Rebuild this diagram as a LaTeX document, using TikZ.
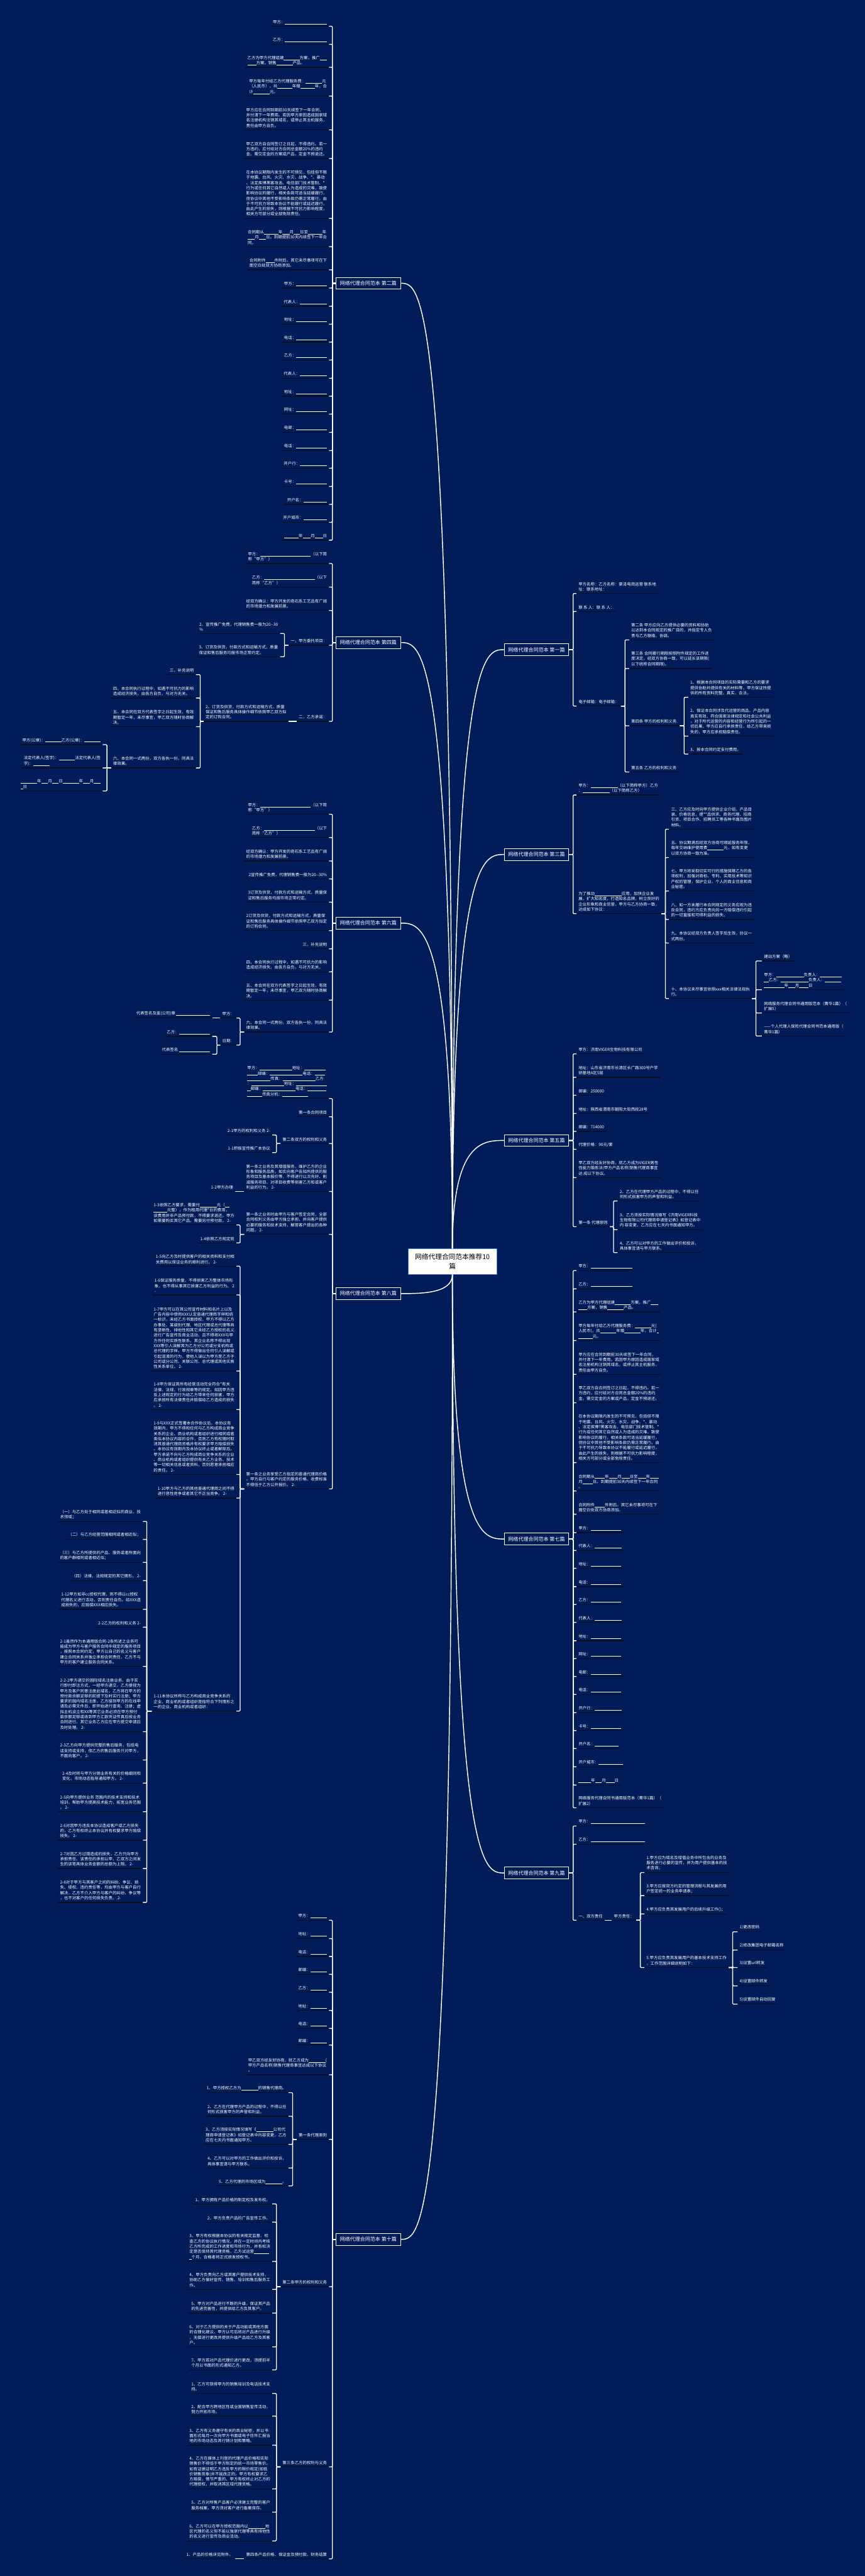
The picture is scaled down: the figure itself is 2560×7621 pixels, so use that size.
\documentclass[tikz,border=0pt]{standalone}
\usepackage{fontspec}
\setmainfont{Noto Sans CJK SC}
\usepackage{tikz}
\usetikzlibrary{calc}
\definecolor{bg}{HTML}{021C59}
\definecolor{ink}{HTML}{080C24}
\definecolor{rootedge}{HTML}{4A78D0}
\newdimen\pxu \pxu=0.3mm
\newcommand\bl[1]{\rule[-0.12em]{#1\pxu}{0.06em}}
\tikzset{
  root/.style={draw=rootedge, line width=1pt, fill=white, text=black, align=center,
               font=\fontsize{17}{24.7}\selectfont, minimum width=78.6mm, minimum height=22.8mm, inner sep=2pt},
  branch/.style={draw=white, line width=1.2pt, fill=bg, text=white, font=\fontsize{12.75}{15}\selectfont,
                 minimum width=57.3mm, minimum height=10.5mm, inner sep=2pt},
  uline/.style={draw=ink, line width=2pt},
  leaf/.style={text=white, align=left, font=\fontsize{10.2}{13.2}\selectfont, inner xsep=1.8mm, inner ysep=2mm,
               append after command={(\tikzlastnode.south west) edge[uline] (\tikzlastnode.south east)}},
  lleaf/.style={leaf, anchor=south east},
  rleaf/.style={leaf, anchor=south west},
  conn/.style={draw=white, line width=2pt, rounded corners=2pt},
  trunk/.style={draw=white, line width=2.3pt},
}
\begin{document}
\begin{tikzpicture}[x=0.3mm, y=-0.3mm]
  \fill[bg] (0,0) rectangle (2560,7621);
  \useasboundingbox (0,0) rectangle (2560,7621);
  \node[root] (root) at (1339,3732) {网络代理合同范本推荐10\\篇};
  \node[branch] (b1) at (1588,1922) {网络代理合同范本 第一篇};
  \node[branch] (b2) at (1090,838) {网络代理合同范本 第二篇};
  \node[branch] (b3) at (1588,2528) {网络代理合同范本 第三篇};
  \node[branch] (b4) at (1090,1901) {网络代理合同范本 第四篇};
  \node[branch] (b5) at (1588,3374) {网络代理合同范本 第五篇};
  \node[branch] (b6) at (1090,2731) {网络代理合同范本 第六篇};
  \node[branch] (b7) at (1588,4553) {网络代理合同范本 第七篇};
  \node[branch] (b8) at (1090,3827) {网络代理合同范本 第八篇};
  \node[branch] (b9) at (1588,5541) {网络代理合同范本 第九篇};
  \node[branch] (b10) at (1090,6625) {网络代理合同范本 第十篇};
  \foreach \b in {b2,b4,b6}
    \draw[trunk] (root.north) .. controls (root.north |- \b.east) and ($(\b.east)+(60,0)$) .. (\b.east);
  \foreach \b in {b1,b3,b5}
    \draw[trunk] (root.north) .. controls (root.north |- \b.west) and ($(\b.west)+(-60,0)$) .. (\b.west);
  \foreach \b in {b8,b10}
    \draw[trunk] (root.south) .. controls (root.south |- \b.east) and ($(\b.east)+(60,0)$) .. (\b.east);
  \foreach \b in {b7,b9}
    \draw[trunk] (root.south) .. controls (root.south |- \b.west) and ($(\b.west)+(-60,0)$) .. (\b.west);

  \node[lleaf] (b2c1) at (974,77.5) {甲方：\bl{124}};
  \node[lleaf] (b2c2) at (974,131) {乙方：\bl{124}};
  \node[lleaf] (b2c3) at (974,199) {乙方为甲方代理组建\bl{47}方案，推广\bl{21}\\\bl{26}方案，销售\bl{48}产品。};
  \node[lleaf] (b2c4) at (974,284) {甲方每年付给乙方代理服务费：\bl{48}元\\（人民币），共\bl{44}年赠\bl{43}年，合\\计\bl{49}元。};
  \node[lleaf] (b2c5) at (974,384) {甲方应在合同到期前30天续签下一年合同，\\并付清下一年费用。若因甲方原因造成国家域\\名注册机构注销其域名，或停止其主机服务，\\责任由甲方自负。};
  \node[lleaf] (b2c6) at (974,469) {甲乙双方自合同签订之日起，不得违约。若一\\方违约，应付给对方合同总金额20\%的违约\\金。需交定金的方案或产品，定金不预退还。};
  \node[lleaf] (b2c7) at (974,646) {在本协议期限内发生的不可预见，包括但不限\\于地震、台风、火灾、水灾、战争、*、暴动\\、法定疾博黑客攻击、电信部门技术管制、*\\行为或任何其它自然或人为造成的灾难，致使\\影响协议的履行，相关条款可适当延缓履行，\\但协议中其他不受影响条款仍需正常履行。由\\于不可抗力导致本协议不能履行或延迟履行，\\由此产生的损失，则根据不可抗力影响程度，\\相关方可部分或全部免除责任。};
  \node[lleaf] (b2c8) at (974,730) {合同期从\bl{43}年\bl{21}月\bl{19}日至\bl{42}年\\\bl{21}月\bl{21}日。到期提前30天内续签下一年合\\同。};
  \node[lleaf] (b2c9) at (974,798) {合同附件\bl{26}件附后。其它未尽事项可在下\\面空白处双方协商添加。};
  \node[lleaf] (b2c10) at (974,852) {甲方：\bl{91}};
  \node[lleaf] (b2c11) at (974,906) {代表人：\bl{80}};
  \node[lleaf] (b2c12) at (974,959) {地址：\bl{91}};
  \node[lleaf] (b2c13) at (974,1012) {电话：\bl{91}};
  \node[lleaf] (b2c14) at (974,1065) {乙方：\bl{91}};
  \node[lleaf] (b2c15) at (974,1119) {代表人：\bl{80}};
  \node[lleaf] (b2c16) at (974,1172) {地址：\bl{91}};
  \node[lleaf] (b2c17) at (974,1225) {网址：\bl{91}};
  \node[lleaf] (b2c18) at (974,1279) {电邮：\bl{91}};
  \node[lleaf] (b2c19) at (974,1333) {电话：\bl{91}};
  \node[lleaf] (b2c20) at (974,1385) {开户行：\bl{80}};
  \node[lleaf] (b2c21) at (974,1439) {卡号：\bl{91}};
  \node[lleaf] (b2c22) at (974,1492) {开户名：\bl{70}};
  \node[lleaf] (b2c23) at (974,1545) {开户城市：\bl{70}};
  \node[lleaf] (b2c24) at (974,1598) {\bl{43}年\bl{24}月\bl{24}日};
  \foreach \i in {1,...,24} \draw[conn] (b2.west) -- ++(-10,0) |- (b2c\i.south east);

  \node[lleaf] (b4c1) at (974,1667) {甲方：\bl{150}（以下简\\称“甲方”）};
  \node[lleaf] (b4c2) at (974,1737) {乙方：\bl{150}（以下\\简称“乙方”）};
  \node[lleaf] (b4c3) at (974,1806) {经双方确认：甲方开发的奇石系工艺品有广阔\\的市场潜力和发展前景。};
  \node[lleaf] (b4c4) at (974,1909) {一，甲方委托项目：};
  \node[lleaf] (b4c5) at (974,2134) {二，乙方承诺：};
  \node[lleaf] (b4d1) at (829,1874) {2、宣传推广免费，代理销售费一般为20-{}-30\\\%};
  \node[lleaf] (b4d2) at (829,1943) {3、订货及供货，付款方式和运输方式，质量\\保证和售后服务均按市场正常约定。};
  \node[lleaf] (b4e1) at (854,2134) {2、订货及供货，付款方式和运输方式，质量\\保证和售后服务具体操作细节依照甲乙双方拟\\定的订购合同。};
  \node[lleaf] (b4f1) at (580,1996) {三，补充说明};
  \node[lleaf] (b4f2) at (580,2065) {四，本合同执行过程中，如遇不可抗力的影响\\造成经济损失，由各方自负，与对方无关。};
  \node[lleaf] (b4f3) at (580,2150) {五、本合同在双方代表签字之日起生效，有效\\期暂定一年，未尽事宜，甲乙双方随时协商解\\决。};
  \node[lleaf] (b4f4) at (580,2272) {六、本合同一式两份，双方各执一份，同具法\\律效果。};
  \node[lleaf] (b4g1) at (304,2203) {甲方(公章)：\bl{48}乙方(公章)：\bl{48}};
  \node[lleaf] (b4g2) at (304,2272) {法定代表人(签字)：\bl{48}法定代表人(签\\字)：\bl{48}};
  \node[lleaf] (b4g3) at (304,2340) {\bl{48}年\bl{20}月\bl{20}日\bl{48}年\bl{20}月\bl{20}\\\bl{6}日};
  \foreach \i in {1,...,5} \draw[conn] (b4.west) -- ++(-10,0) |- (b4c\i.south east);
  \foreach \i in {b4d1,b4d2} \draw[conn] (b4c4.south west) -- ++(-12,0) |- (\i.south east);
  \draw[conn] (b4c5.south west) -- (b4e1.south east);
  \foreach \i in {1,...,4} \draw[conn] (b4e1.south west) -- ++(-10,0) |- (b4f\i.south east);
  \foreach \i in {1,2,3} \draw[conn] (b4f4.south west) -- ++(-12,0) |- (b4g\i.south east);

  \node[lleaf] (b6c1) at (974,2409) {甲方：\bl{150}（以下简\\称“甲方”）};
  \node[lleaf] (b6c2) at (974,2478) {乙方：\bl{150}（以下\\简称“乙方”）};
  \node[lleaf] (b6c3) at (974,2547) {经双方确认：甲方开发的奇石系工艺品有广阔\\的市场潜力和发展前景。};
  \node[lleaf] (b6c4) at (974,2600) {2宣传推广免费，代理销售费一般为20-{}-30\%};
  \node[lleaf] (b6c5) at (974,2669) {3订货及供货，付款方式和运输方式，质量保\\证和售后服务均按市场正常约定。};
  \node[lleaf] (b6c6) at (974,2753) {2订货及供货，付款方式和运输方式，质量保\\证和售后服务具体操作细节依照甲乙双方拟定\\的订购合同。};
  \node[lleaf] (b6c7) at (974,2807) {三，补充说明};
  \node[lleaf] (b6c8) at (974,2875) {四，本合同执行过程中，如遇不可抗力的影响\\造成经济损失，由各方自负，与对方无关。};
  \node[lleaf] (b6c9) at (974,2959) {五、本合同在双方代表签字之日起生效，有效\\期暂定一年，未尽事宜，甲乙双方随时协商解\\决。};
  \node[lleaf] (b6c10) at (974,3053) {六、本合同一式两份，双方各执一份，同具法\\律效果。};
  \node[lleaf] (b6d1) at (700,3012) {甲方：};
  \node[lleaf] (b6d2) at (700,3092) {日期：};
  \node[lleaf] (b6e1) at (628,3012) {代表签名及盖(公司)章 \bl{100}};
  \node[lleaf] (b6f1) at (628,3066) {乙方：\bl{92}};
  \node[lleaf] (b6f2) at (628,3119) {代表签名 \bl{92}};
  \foreach \i in {1,...,10} \draw[conn] (b6.west) -- ++(-10,0) |- (b6c\i.south east);
  \foreach \i in {b6d1,b6d2} \draw[conn] (b6c10.south west) -- ++(-12,0) |- (\i.south east);
  \draw[conn] (b6d1.south west) -- (b6e1.south east);
  \foreach \i in {b6f1,b6f2} \draw[conn] (b6d2.south west) -- ++(-10,0) |- (\i.south east);

  \node[lleaf] (b8c1) at (974,3250) {甲方：\bl{97}地址：\bl{63}\\\bl{31}邮编：\bl{97}电话：\bl{30}\\\bl{69}传真：\bl{97}乙方\\：\bl{97}地址：\bl{91}\\\bl{10}邮编：\bl{97}电话：\bl{55}\\\bl{44}传真分机：\bl{76}};
  \node[lleaf] (b8c2) at (974,3304) {第一条合同项目};
  \node[lleaf] (b8c3) at (974,3383) {第二条双方的权利和义务};
  \node[lleaf] (b8c4) at (974,3525) {第一条之业务及其增值服务，维护乙方的企业\\形象和服务品质，如实向客户告知所提供的服\\务项目及基本报价等，不得进行以次充好、削\\减服务项目、对项目收费等损害乙方和或客户\\利益的行为。 2-};
  \node[lleaf] (b8c5) at (974,3652) {第一条之业务时由甲方与客户签定合同，全部\\合同权利义务由甲方独立承担，并向客户提供\\必要的服务和技术支持，解答客户提出的各种\\问题。 2-};
  \node[lleaf] (b8c6) at (974,4405) {第一条之业务享受乙方指定的普通代理商价格\\。甲方自行与客户约定的服务价格、收费标准\\不得低于乙方公开报价。 2-};
  \node[lleaf] (b8d1) at (806,3358) {2-1甲方的权利和义务 2-};
  \node[lleaf] (b8d2) at (806,3410) {1-1积极宣传推广本协议};
  \node[lleaf] (b8e1) at (696,3525) {1-2甲方办理};
  \node[lleaf] (b8f1) at (700,3624) {1-3依照乙方要求，需要付\bl{50}元（\bl{14}\\\bl{40}元整），作为租用代理*台的费用，\\该费用并非产品预付款，不得要求退还。甲方\\如需要购买其它产品，需要另付预付款。 2-};
  \node[lleaf] (b8f2) at (700,3677) {1-4依照乙方规定就};
  \node[lleaf] (b8g1) at (700,3746) {1-5向乙方及时提供客户的相关资料和支付相\\关费用以保证业务的顺利进行。 2-};
  \node[lleaf] (b8g2) at (700,3831) {1-6保证服务质量，不得损害乙方整体市场形\\象，也不得从事其它损害乙方利益的行为。 2\\-};
  \node[lleaf] (b8g3) at (700,4056) {1-7甲方可以在其公司宣传材料和名片上以及\\广告内容中使用XXX认定普通代理商字样和统\\一标识，未经乙方书面授权，甲方不得以乙方\\办事处、某级别代理、地区代理或总代理等具\\有垄断性、排他性和其它未经乙方授权的名义\\进行广告宣传及商业活动，且不得将XXX与甲\\方作任何实质性联系，其企业名称不得出现\\XXX等引人误解其为乙方分公司或分支机构或\\总代理的字样。甲方不得做出任何引人误解或\\引起混淆的行为，使他人误以为甲方是乙方子\\公司或分公司、关联公司、总代理或其他实质\\性关系单位。 2-};
  \node[lleaf] (b8g4) at (700,4170) {1-8甲方保证其所有经营活动完全符合*有关\\法律、法规、行政规章等的规定。如因甲方违\\反上述规定的行为给乙方带来任何损害，甲方\\应承担所有法律责任并赔偿给乙方造成的损失\\。 2-};
  \node[lleaf] (b8g5) at (700,4362) {1-9与XXX正式签署本合作协议后，本协议有\\效期内，甲方不得和任何与乙方构成商业竞争\\关系的企业、商业机构或者组织进行相同或者\\类似本协议内容的合作，否则乙方有权随时取\\消其普通代理商资格并有权要求甲方赔偿损失\\。本协议有效期内及本协议终止或者解除后，\\甲方承诺不向与乙方构成商业竞争关系的企业\\、商业机构或者组织提供有关乙方业务、技术\\等一切相关信息或者资料，否则愿意承担相应\\的责任。 2-};
  \node[lleaf] (b8g6) at (700,4432) {1-10甲方与乙方的其他普通代理商之间不得\\进行恶性竞争或者其它不正当竞争。 2-};
  \node[lleaf] (b8g7) at (700,5062) {1-11本协议所称与乙方构成商业竞争关系的\\企业、商业机构或者组织是指符合下列情形之\\一的企业、商业机构或者组织：};
  \node[lleaf] (b8h1) at (423,4501) {（一）与乙方处于相同或者相近似的商业、技\\术领域；};
  \node[lleaf] (b8h2) at (423,4554) {（二）与乙方经营范围相同或者相近似；};
  \node[lleaf] (b8h3) at (423,4622) {（三）与乙方所提供的产品、服务或者所面向\\的客户群相同或者相近似；};
  \node[lleaf] (b8h4) at (423,4676) {（四）法律、法规规定的其它情形。 2-};
  \node[lleaf] (b8h5) at (423,4761) {1-12甲方如非cc授权代理，则不得以cc授权\\代理名义进行活动，否则责任自负。给XXX造\\成损失的，应赔偿XXX相应损失。};
  \node[lleaf] (b8h6) at (423,4814) {2-2乙方的权利和义务 2-};
  \node[lleaf] (b8h7) at (423,4930) {2-1虽然作为本通用版合同-2条所述之业务可\\能成为甲方与客户服务合同中规定的服务项目\\，按照本合同约定，甲方以自己的名义与客户\\建立合同关系并独立承担合同责任，乙方不与\\甲方的客户建立服务合同关系。};
  \node[lleaf] (b8h8) at (423,5123) {2-2-2甲方递交的国际域名注册业务，由于实\\行即付即注方式，一经甲方递交，乙方便视为\\甲方及客户同意注册此域名，乙方将在甲方的\\预付款余额足够的前提下及时实行注册；甲方\\要求的国内域名注册，乙方接到甲方的在线申\\请及必需文件后，即开始进行查询、注册；虚\\拟主机设立和XX等其它业务必须在甲方预付\\款余额足够或收到甲方汇款凭证传真后按业务\\合同进行。其它业务乙方应在甲方提交申请后\\及时处理。 2-};
  \node[lleaf] (b8h9) at (423,5207) {2-3乙方向甲方提供完整的售后服务，包括电\\话支持或支持，但乙方的售后服务只对甲方，\\不面向客户。 2-};
  \node[lleaf] (b8h10) at (423,5275) {2-4及时将与甲方分销业务有关的价格细则和\\变化，市场动态指导通知甲方。 2-};
  \node[lleaf] (b8h11) at (423,5360) {2-5向甲方提供业务 范围内的技术支持和技术\\培训，帮助甲方提高技术能力，拓宽业务范围\\。 2-};
  \node[lleaf] (b8h12) at (423,5444) {2-6对因甲方违反本协议造成客户或乙方损失\\的，乙方有权终止本协议并有权要求甲方赔偿\\损失。 2-};
  \node[lleaf] (b8h13) at (423,5528) {2-7对因乙方过错造成的损失，乙方只向甲方\\承担责任。该责任的承担以甲、乙双方之间发\\生的该笔具体业务金额的总额为上限。 2-};
  \node[lleaf] (b8h14) at (423,5628) {2-8对于甲方与其客户之间的纠纷、争议、损\\失、侵权、违约责任等，均由甲方与客户自行\\解决，乙方不介入甲方与客户的纠纷、争议等\\，也不对客户的任何损失负责。 2-};
  \foreach \i in {1,...,6} \draw[conn] (b8.west) -- ++(-10,0) |- (b8c\i.south east);
  \foreach \i in {b8d1,b8d2} \draw[conn] (b8c3.south west) -- ++(-12,0) |- (\i.south east);
  \draw[conn] (b8c4.south west) -- (b8e1.south east);
  \foreach \i in {b8f1,b8f2} \draw[conn] (b8c5.south west) -- ++(-12,0) |- (\i.south east);
  \foreach \i in {1,...,7} \draw[conn] (b8c6.south west) -- ++(-12,0) |- (b8g\i.south east);
  \foreach \i in {1,...,14} \draw[conn] (b8g7.south west) -- ++(-14,0) |- (b8h\i.south east);

  \node[lleaf] (b10c1) at (974,5681) {甲方：\bl{49}};
  \node[lleaf] (b10c2) at (974,5735) {地址：\bl{49}};
  \node[lleaf] (b10c3) at (974,5788) {电话：\bl{49}};
  \node[lleaf] (b10c4) at (974,5841) {邮编：\bl{49}};
  \node[lleaf] (b10c5) at (974,5894) {乙方：\bl{49}};
  \node[lleaf] (b10c6) at (974,5948) {地址：\bl{49}};
  \node[lleaf] (b10c7) at (974,6001) {电话：\bl{49}};
  \node[lleaf] (b10c8) at (974,6050) {邮编：\bl{49}};
  \node[lleaf] (b10c9) at (974,6138) {甲乙双方经友好协商，就乙方成为\bl{50}(\\甲方产品名称)销售代理商事宜达成以下协议\\。};
  \node[lleaf] (b10c10) at (974,6329) {第一条代理原则};
  \node[lleaf] (b10c11) at (974,6765) {第二条甲方的权利和义务};
  \node[lleaf] (b10c12) at (974,7298) {第三条乙方的权利与义务};
  \node[lleaf] (b10c13) at (974,7570) {第四条产品价格、保证金及预付款、财务结算};
  \node[lleaf] (b10d1) at (854,6191) {1、甲方授权乙方为\bl{50}的销售代理商。};
  \node[lleaf] (b10d2) at (854,6261) {2、乙方在代理甲方产品的过程中，不得以任\\何形式损害甲方的声誉和利益。};
  \node[lleaf] (b10d3) at (854,6344) {3、乙方须按实际情况填写《\bl{50}公司代\\理商申请登记表》如登记表中内容变更，乙方\\应在七天内书面通知甲方。};
  \node[lleaf] (b10d4) at (854,6414) {4、乙方可以对甲方的工作做出评价和投诉，\\具体事宜请与甲方联系。};
  \node[lleaf] (b10d5) at (854,6467) {5、乙方代理的市场区域为\bl{50}。};
  \node[lleaf] (b10e1) at (806,6520) {1、甲方拥有产品价格的制定权及发布权。};
  \node[lleaf] (b10e2) at (806,6574) {2、甲方负责产品的广告宣传工作。};
  \node[lleaf] (b10e3) at (806,6690) {3、甲方有权根据本协议的有关规定监督、检\\查乙方的协议执行情况，并在一定时间内考核\\乙方所完成的工作进度和市场行为，并有权决\\定是否保持其代理资格，乙方试运营\bl{44}\\\bl{6}个月，合格者将正式颁发授权书。};
  \node[lleaf] (b10e4) at (806,6773) {4、甲方负责向乙方或其客户提供技术支持，\\协助乙方做好宣传、销售、培训和售后服务工\\作。};
  \node[lleaf] (b10e5) at (806,6843) {5、甲方对产品进行不断的升级，保证其产品\\的先进完善性，并提供给乙方及其客户。};
  \node[lleaf] (b10e6) at (806,6943) {6、对于乙方提供的关于产品功能或其他方面\\的合理化建议，甲方认可后将对产品进行升级\\，无偿进行更改并提供升级产品给乙方及其客\\户。};
  \node[lleaf] (b10e7) at (806,7011) {7、甲方若对产品代理价进行更改，须提前半\\个月以书面的形式通知乙方。};
  \node[lleaf] (b10f1) at (806,7081) {1、乙方可获得甲方的销售培训及电话技术支\\持。};
  \node[lleaf] (b10f2) at (806,7148) {2、配合甲方跨地区性或全国销售宣传活动，\\努力开拓市场。};
  \node[lleaf] (b10f3) at (806,7234) {3、乙方有义务遵守有关的商业秘密，并以书\\面形式每月一次向甲方书面或电子信件汇报当\\地的市场动态及其行销计划和策略。};
  \node[lleaf] (b10f4) at (806,7363) {4、乙方在媒体上刊登的代理产品价格和实际\\销售价不得低于甲方制定的统一市场零售价。\\如有证据证明乙方违反甲方的限价规定(如低\\价销售现象)并不能改正的，甲方有权要求乙\\方赔偿，情节严重的，甲方有权终止对乙方的\\代理授权，并取消其区域代理资格。};
  \node[lleaf] (b10f5) at (806,7432) {5、乙方对所售产品客户必须建立完整的客户\\服务档案，甲方须对客户进行备案保存。};
  \node[lleaf] (b10f6) at (806,7517) {6、乙方可以在甲方授权范围内以\bl{50}地\\区代理的名义但不能以独家代理等具有排他性\\的名义进行宣传及商业活动。};
  \node[lleaf] (b10g1) at (696,7570) {1、产品的价格详见附件。};
  \foreach \i in {1,...,13} \draw[conn] (b10.west) -- ++(-10,0) |- (b10c\i.south east);
  \foreach \i in {1,...,5} \draw[conn] (b10c10.south west) -- ++(-12,0) |- (b10d\i.south east);
  \foreach \i in {1,...,7} \draw[conn] (b10c11.south west) -- ++(-12,0) |- (b10e\i.south east);
  \foreach \i in {1,...,6} \draw[conn] (b10c12.south west) -- ++(-12,0) |- (b10f\i.south east);
  \draw[conn] (b10c13.south west) -- (b10g1.south east);

  \node[rleaf] (b1c1) at (1706,1756) {甲方名称：乙方名称：豪泽电商运营 联系地\\址：联系地址：};
  \node[rleaf] (b1c2) at (1706,1809) {联 系 人：联 系 人：};
  \node[rleaf] (b1c3) at (1706,2089) {电子邮箱：电子邮箱：};
  \node[rleaf] (b1d1) at (1862,1893) {第二条 甲方应向乙方提供必要的资料和协助\\以达到本合同规定的推广目的，并指定专人负\\责与乙方联络、协调。};
  \node[rleaf] (b1d2) at (1862,1978) {第三条 合同履行期限按照附件规定的工作进\\度决定，经双方协商一致，可以延长该期限(\\以下统称合同期限)。};
  \node[rleaf] (b1d3) at (1862,2147) {第四条 甲方的权利和义务.};
  \node[rleaf] (b1d4) at (1862,2284) {第五条 乙方的权利和义务};
  \node[rleaf] (b1e1) at (2037,2063) {1、根据本合同项目的实际需要和乙方的要求\\提供协助并提供有关的材料等，甲方保证所提\\供的所有资料完整、真实、合法。};
  \node[rleaf] (b1e2) at (2037,2178) {2、保证本合同涉及代运营的商品、产品内容\\真实有效、符合国家法律规定和社会公共利益\\，对于所代运营的内容和经营行为所引起的一\\切后果，甲方应自行承担责任，给乙方带来损\\失的，甲方应承担赔偿责任。};
  \node[rleaf] (b1e3) at (2037,2231) {3、按本合同约定支付费用。};
  \foreach \i in {1,2,3} \draw[conn] (b1.east) -- ++(12,0) |- (b1c\i.south west);
  \foreach \i in {1,...,4} \draw[conn] (b1c3.south east) -- ++(12,0) |- (b1d\i.south west);
  \foreach \i in {1,2,3} \draw[conn] (b1d3.south east) -- ++(13,0) |- (b1e\i.south west);

  \node[rleaf] (b3c1) at (1706,2352) {甲方：\bl{80}（以下简称甲方）乙方\\：\bl{80}（以下简称乙方）};
  \node[rleaf] (b3c2) at (1706,2703) {为了推动\bl{80}应用，加快企业发\\展，扩大知名度，打造知名品牌，树立良好的\\企业形象和商业信誉，甲方与乙方协商一致，\\达成如下协议：};
  \node[rleaf] (b3d1) at (1980,2453) {三、乙方应及时向甲方提供企业介绍，产品目\\录、价格信息，提**品供求、商务代理、招商\\引资、项目合作、招聘员工等各种书面及图片\\材料。};
  \node[rleaf] (b3d2) at (1980,2537) {五、协议期满后经双方协商可顺延服务年限，\\每年交纳维护使用费\bl{48}元，如有变更\\以双方协商一致为准。};
  \node[rleaf] (b3d3) at (1980,2636) {七、甲方将采取切实可行的措施保障乙方的各\\项权利，加强对商标、专利、实用技术等知识\\产权的管理，保护企业、个人的商业信息和商\\业秘密。};
  \node[rleaf] (b3d4) at (1980,2720) {八、如一方未履行本合同规定的义务应视为违\\反合同，违约方应负责向另一方赔偿违约引起\\的一切直接和可得利益的损失。};
  \node[rleaf] (b3d5) at (1980,2790) {九、本协议经双方负责人签字后生效，协议一\\式两份。};
  \node[rleaf] (b3d6) at (1980,2954) {十、本协议未尽事宜依照xxx相关法律法规执\\行。};
  \node[rleaf] (b3e1) at (2255,2843) {建站方案（略）};
  \node[rleaf] (b3e2) at (2255,2928) {甲方：\bl{82}负责人：\bl{64}\\\bl{14}乙方：\bl{82}负责人：\bl{48}\\\bl{60}年\bl{20}月\bl{28}日};
  \node[rleaf] (b3e3) at (2255,2997) {网络服务代理合同书通用版范本（菁华1篇）（\\扩展5）};
  \node[rleaf] (b3e4) at (2255,3065) {——个人代理人保险代理合同书范本通用版（\\菁华1篇）};
  \foreach \i in {1,2} \draw[conn] (b3.east) -- ++(12,0) |- (b3c\i.south west);
  \foreach \i in {1,...,6} \draw[conn] (b3c2.south east) -- ++(12,0) |- (b3d\i.south west);
  \foreach \i in {1,...,4} \draw[conn] (b3d6.south east) -- ++(12,0) |- (b3e\i.south west);

  \node[rleaf] (b5c1) at (1706,3118) {甲方：济南VIGER生物科技有限公司};
  \node[rleaf] (b5c2) at (1706,3187) {地址：山东省济南市长清区长广路300号产学\\研基地A区5层};
  \node[rleaf] (b5c3) at (1706,3240) {邮编：250000};
  \node[rleaf] (b5c4) at (1706,3294) {地址：陕西省渭南市朝阳大街西段28号};
  \node[rleaf] (b5c5) at (1706,3347) {邮编：714000};
  \node[rleaf] (b5c6) at (1706,3400) {代理价格：90元/套};
  \node[rleaf] (b5c7) at (1706,3484) {甲乙双方经友好协商，就乙方成为VIGER男性\\性能力锻炼法(甲方产品名称)销售代理商事宜\\达 成以下协议。};
  \node[rleaf] (b5c8) at (1706,3629) {第一条 代理原则};
  \node[rleaf] (b5d1) at (1828,3553) {2、乙方在代理甲方产品的过程中，不得以任\\何形式损害甲方的声誉和利益。};
  \node[rleaf] (b5d2) at (1828,3638) {3、乙方须按实际情况填写《济南VIGER科技\\生物有限公司代理商申请登记表》如登记表中\\内 容变更，乙方应在七天内书面通知甲方。};
  \node[rleaf] (b5d3) at (1828,3706) {4、乙方可以对甲方的工作做出评价和投诉，\\具体事宜请与甲方联系。};
  \foreach \i in {1,...,8} \draw[conn] (b5.east) -- ++(12,0) |- (b5c\i.south west);
  \foreach \i in {1,2,3} \draw[conn] (b5c8.south east) -- ++(11,0) |- (b5d\i.south west);

  \node[rleaf] (b7c1) at (1706,3759) {甲方：\bl{124}};
  \node[rleaf] (b7c2) at (1706,3813) {乙方：\bl{124}};
  \node[rleaf] (b7c3) at (1706,3881) {乙方为甲方代理组建\bl{47}方案，推广\bl{21}\\\bl{26}方案，销售\bl{48}产品。};
  \node[rleaf] (b7c4) at (1706,3966) {甲方每年付给乙方代理服务费：\bl{48}元(\\人民币)，共\bl{48}年赠\bl{48}年，合计\bl{6}\\\bl{42}元。};
  \node[rleaf] (b7c5) at (1706,4066) {甲方应在合同到期前30天续签下一年合同，\\并付清下一年费用。若因甲方原因造成国家域\\名注册机构注销其域名，或停止其主机服务，\\责任由甲方自负。};
  \node[rleaf] (b7c6) at (1706,4150) {甲乙双方自合同签订之日起，不得违约。若一\\方违约，应付给对方合同总金额20\%的违约\\金。需交定金的方案或产品，定金不预退还。};
  \node[rleaf] (b7c7) at (1706,4327) {在本协议期限内发生的不可预见，包括但不限\\于地震、台风、火灾、水灾、战争、*、暴动\\、法定疾博?黑客攻击、电信部门技术管制、*\\行为或任何其它自然或人为造成的灾难，致使\\影响协议的履行，相关条款可适当延缓履行，\\但协议中其他不受影响条款仍需正常履行。由\\于不可抗力导致本协议不能履行或延迟履行，\\由此产生的损失，则根据不可抗力影响程度，\\相关方可部分或全部免除责任。};
  \node[rleaf] (b7c8) at (1706,4411) {合同期从\bl{30}年\bl{26}月\bl{24}日至\bl{24}年\bl{26}\\月\bl{30}日。到期提前30天内续签下一年合同\\。};
  \node[rleaf] (b7c9) at (1706,4480) {合同附件\bl{30}件附后。其它未尽事项可在下\\面空白处双方协商添加。};
  \node[rleaf] (b7c10) at (1706,4534) {甲方：\bl{91}};
  \node[rleaf] (b7c11) at (1706,4587) {代表人：\bl{80}};
  \node[rleaf] (b7c12) at (1706,4640) {地址：\bl{91}};
  \node[rleaf] (b7c13) at (1706,4694) {电话：\bl{91}};
  \node[rleaf] (b7c14) at (1706,4747) {乙方：\bl{91}};
  \node[rleaf] (b7c15) at (1706,4800) {代表人：\bl{80}};
  \node[rleaf] (b7c16) at (1706,4854) {地址：\bl{91}};
  \node[rleaf] (b7c17) at (1706,4907) {网址：\bl{91}};
  \node[rleaf] (b7c18) at (1706,4960) {电邮：\bl{91}};
  \node[rleaf] (b7c19) at (1706,5013) {电话：\bl{91}};
  \node[rleaf] (b7c20) at (1706,5067) {开户行：\bl{80}};
  \node[rleaf] (b7c21) at (1706,5120) {卡号：\bl{91}};
  \node[rleaf] (b7c22) at (1706,5173) {开户名：\bl{70}};
  \node[rleaf] (b7c23) at (1706,5227) {开户城市：\bl{72}};
  \node[rleaf] (b7c24) at (1706,5281) {\bl{37}年\bl{20}月\bl{26}日};
  \node[rleaf] (b7c25) at (1706,5348) {网络服务代理合同书通用版范本（菁华1篇）（\\扩展2）};
  \foreach \i in {1,...,25} \draw[conn] (b7.east) -- ++(12,0) |- (b7c\i.south west);

  \node[rleaf] (b9c1) at (1706,5402) {甲方：\bl{161}};
  \node[rleaf] (b9c2) at (1706,5456) {乙方：\bl{161}};
  \node[rleaf] (b9c3) at (1706,5681) {一、双方责任};
  \node[rleaf] (b9d1) at (1811,5681) {甲方责任：};
  \node[rleaf] (b9e1) at (1907,5540) {1.甲方应为域名及增值业务中所包含的业务及\\服务进行必要的宣传，并为用户提供基本的技\\术咨询；};
  \node[rleaf] (b9e2) at (1907,5608) {3.甲方应按双方约定的管理流程与其发展的用\\户签定统一的业务申请表；};
  \node[rleaf] (b9e3) at (1907,5662) {4.甲方应负责其发展用户的后续升级工作()；};
  \node[rleaf] (b9e4) at (1907,5821) {5.甲方应负责其发展用户的基本技术支持工作\\，工作范围详细说明如下：};
  \node[rleaf] (b9f1) at (2183,5715) {1)更改密码};
  \node[rleaf] (b9f2) at (2183,5769) {2)修改集团电子邮箱名称};
  \node[rleaf] (b9f3) at (2183,5821) {3)设置url转发};
  \node[rleaf] (b9f4) at (2183,5875) {4)设置邮件转发};
  \node[rleaf] (b9f5) at (2183,5929) {5)设置邮件自动回复};
  \foreach \i in {1,2,3} \draw[conn] (b9.east) -- ++(12,0) |- (b9c\i.south west);
  \draw[conn] (b9c3.south east) -- (b9d1.south west);
  \foreach \i in {1,...,4} \draw[conn] (b9d1.south east) -- ++(12,0) |- (b9e\i.south west);
  \foreach \i in {1,...,5} \draw[conn] (b9e4.south east) -- ++(12,0) |- (b9f\i.south west);
\end{tikzpicture}
\end{document}
